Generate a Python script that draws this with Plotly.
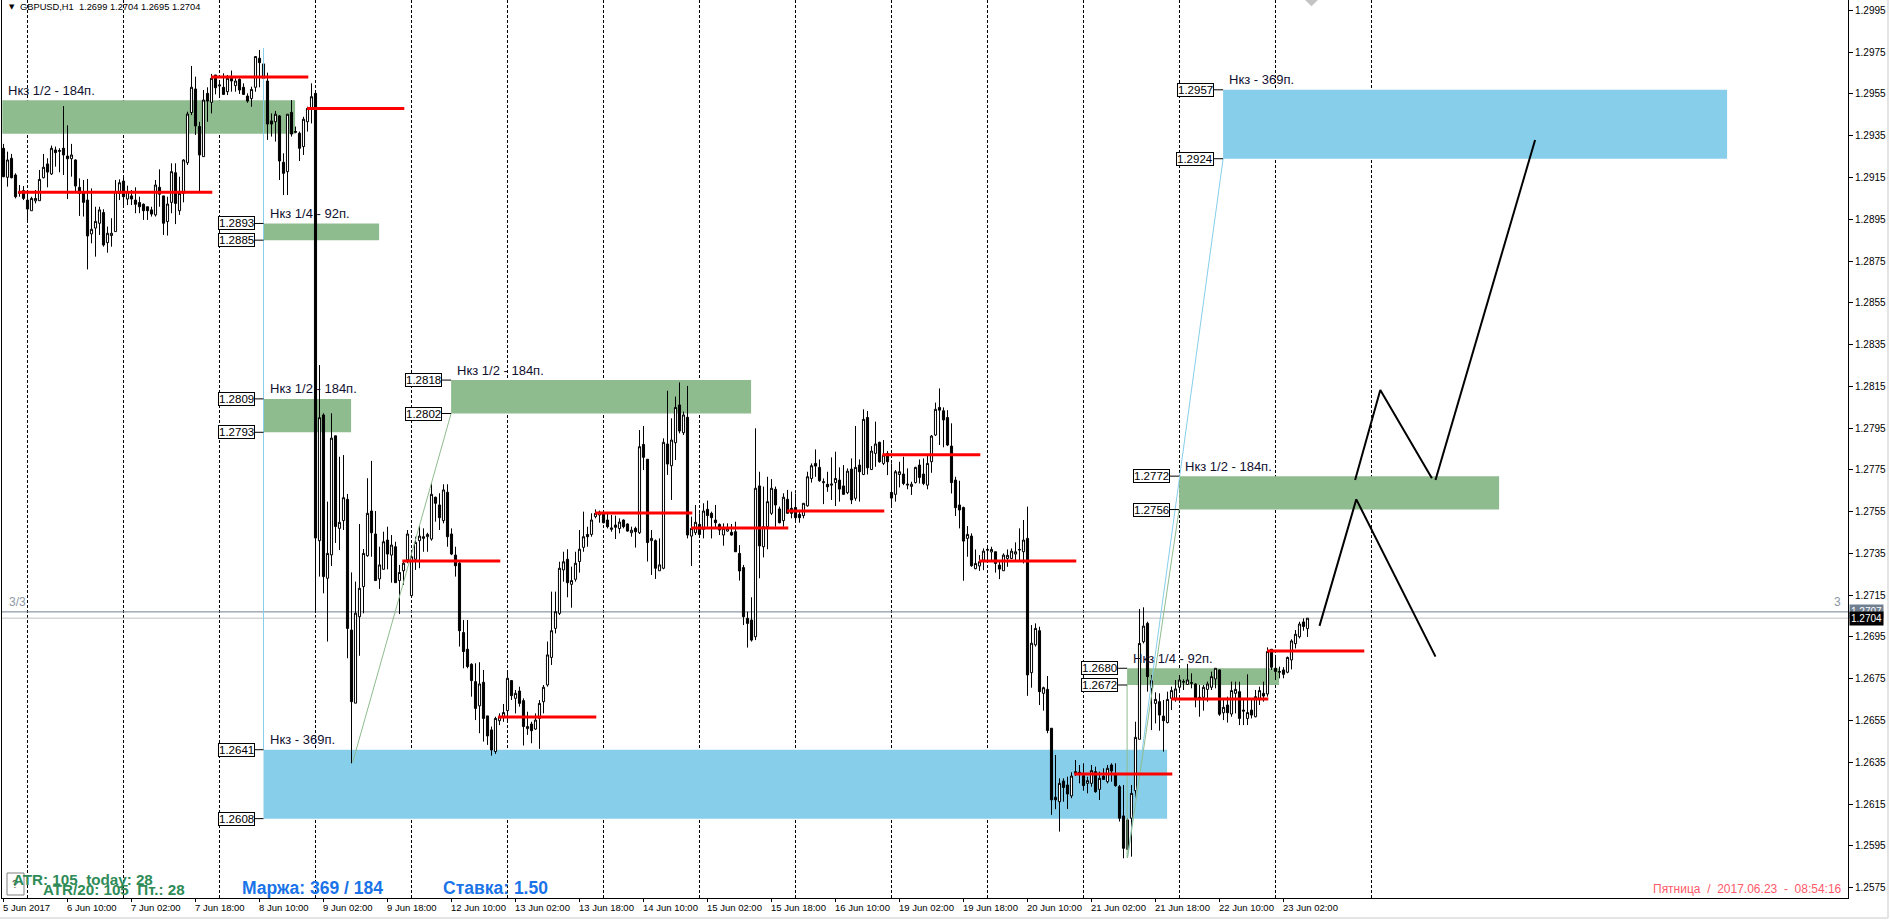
import plotly.graph_objects as go

# hourly bars, in points (price * 100000)
highs_pts = [
    129311,129274,129263,129170,129114,129109,129090,129058,129090,129186,
    129263,129242,129303,129298,129290,129492,129400,129311,129237,129146,
    129138,129143,129098,129010,129010,128998,128915,128955,129138,129141,
    129154,129111,129090,129103,129058,129026,129010,129010,129138,129189,
    129062,129058,129218,129218,129154,129237,129465,129684,129633,129417,
    129569,129582,129646,129641,129617,129649,129641,129662,129625,129625,
    129601,129553,129585,129732,129761,129697,129652,129457,129469,129449,
    129266,129453,129521,129394,129370,129441,129489,129601,129553,
    128252,128021,127598,128021,127913,127813,127821,127635,127259,127215,
    127491,127371,127710,127793,127553,127382,127454,127478,127438,127406,
    127295,127318,127462,127366,127430,127486,127470,127449,127686,127622,
    127638,127681,127681,127470,127382,127310,127031,127031,126824,126824,
    126829,126792,126572,126521,126568,126584,126629,126784,126744,126696,
    126712,126656,126592,126544,126584,126648,126720,126928,127167,127167,
    127310,127358,127370,127287,127358,127462,127550,127478,127542,127561,
    127555,127553,127542,127534,127531,127518,127513,127494,127478,127478,
    127941,127960,127801,127462,127417,127422,127901,128129,127997,128101,
    128169,128029,128152,127526,127582,127542,127590,127603,127550,127582,
    127494,127494,127494,127491,127502,127390,127295,127071,127140,127949,
    127741,127670,127717,127706,127670,127574,127638,127654,127646,
    127637,127558,127590,127741,127781,127848,127800,127709,127741,127810,
    127837,127762,127773,127757,127805,127960,127800,128040,128032,127864,
    127981,127885,127893,127840,127781,127749,127789,127813,127757,127693,
    127765,127800,127805,127821,127917,128072,128140,128049,128036,127973,
    127717,127698,127574,127481,127446,127369,127342,127374,127385,127382,
    127358,127310,127350,127369,127374,127403,127470,127510,127574,
    127007,127015,126999,126712,126763,126513,126385,126273,126273,126281,126302,
    126361,126337,126345,126281,126337,126329,126305,126321,126337,126345,126345,
    126241,126241,126082,126241,126544,127084,127092,127023,126768,126685,126680,126648,
    126688,126712,126744,126768,126747,126821,126776,126728,126720,126720,
    126736,126784,126800,126795,126656,126664,126736,126736,126736,126656,
    126771,126648,126696,126712,126736,126900,126891,126852,126808,126805,
    126856,126939,126983,127023,127039,127040,
]
body_tops_pts = [
    129290,129234,129242,129162,129082,129087,129042,129050,129050,129141,
    129199,129215,129290,129282,129279,129290,129253,129258,129234,129103,
    129078,129042,128902,128940,128995,128982,128883,128883,129082,129125,
    129133,129082,129062,129042,129030,129022,129010,128995,129114,129103,
    129062,129023,129178,129173,129074,129234,129454,129582,129574,129394,
    129521,129553,129625,129641,129593,129582,129625,129625,129612,129620,
    129582,129540,129572,129729,129721,129694,129612,129421,129453,129445,
    129223,129453,129462,129370,129362,129429,129481,129537,129553,
    128000,128013,127350,127902,127913,127499,127617,127609,126983,127064,
    127183,127350,127542,127553,127443,127295,127406,127414,127390,127382,
    127259,127303,127443,127334,127403,127433,127430,127441,127633,127619,
    127582,127654,127643,127443,127342,127303,126971,126891,126819,126736,
    126725,126733,126572,126505,126560,126568,126588,126752,126741,126680,
    126691,126645,126521,126533,126552,126632,126709,126864,126980,127071,
    127279,127310,127322,127220,127303,127370,127430,127441,127510,127542,
    127547,127545,127510,127472,127486,127500,127510,127491,127461,127470,
    127861,127872,127801,127422,127411,127295,127882,127874,127893,128049,
    128061,128013,128002,127470,127499,127489,127553,127561,127542,127510,
    127489,127470,127470,127451,127454,127350,127282,127039,127031,127662,
    127673,127478,127598,127662,127657,127563,127619,127609,127566,
    127570,127537,127590,127717,127770,127781,127762,127693,127681,127682,
    127709,127701,127673,127744,127754,127762,127773,127992,128001,127840,
    127874,127882,127821,127829,127642,127741,127741,127730,127681,127681,
    127762,127773,127730,127781,127912,128040,128049,128033,128001,127864,
    127701,127582,127570,127441,127433,127302,127310,127361,127369,127369,
    127358,127294,127342,127341,127361,127358,127369,127414,127422,
    126920,126991,126980,126707,126699,126513,126182,126249,126260,126241,126284,
    126305,126302,126286,126262,126310,126305,126273,126284,126321,126337,126289,
    126233,126093,126074,126201,126469,126919,127002,127015,126741,126651,126640,126571,
    126651,126693,126701,126744,126737,126744,126731,126725,126661,126709,
    126725,126760,126800,126792,126613,126624,126693,126699,126688,126600,
    126588,126600,126664,126693,126680,126880,126891,126800,126784,126792,
    126852,126931,126963,127012,127022,127040,
]
body_bottoms_pts = [
    129154,129151,129149,129058,129074,129050,128999,128991,129038,129039,
    129149,129176,129167,129269,129275,129258,129240,129240,129109,129074,
    129031,128870,128880,128908,128931,128827,128838,128872,128891,129074,
    129058,129047,129047,129022,129010,128991,128991,128975,128971,129070,
    128931,128939,129031,129026,128991,129074,129221,129461,129397,129258,
    129250,129516,129510,129580,129588,129548,129561,129612,129590,129569,
    129548,129516,129528,129582,129700,129625,129406,129406,129417,129229,
    129170,129178,129358,129366,129290,129298,129417,129481,127424,
    127411,127239,127231,127343,127479,127470,127507,126991,126640,126633,
    127047,127191,127339,127449,127220,127228,127274,127347,127342,127210,
    127220,127267,127319,127148,127322,127411,127422,127430,127419,127590,
    127521,127507,127430,127347,127291,126980,126880,126808,126741,126608,
    126620,126560,126476,126409,126401,126549,126568,126597,126669,126656,
    126632,126521,126511,126501,126509,126560,126640,126720,126852,126991,
    127063,127271,127210,127202,127226,127311,127379,127430,127441,127526,
    127534,127497,127478,127465,127475,127469,127478,127457,127449,127454,
    127449,127810,127402,127411,127279,127267,127279,127778,127770,127880,
    127936,127928,127438,127433,127449,127441,127465,127531,127521,127497,
    127462,127438,127457,127438,127358,127266,127047,127015,126935,126951,
    127386,127382,127478,127542,127582,127497,127507,127542,127542,
    127521,127521,127531,127578,127709,127768,127698,127689,127669,127677,
    127689,127658,127633,127641,127606,127614,127741,127728,127760,127752,
    127829,127789,127781,127789,127615,127633,127728,127685,127677,127671,
    127689,127714,127685,127677,127789,127917,128036,127989,127869,127689,
    127569,127558,127409,127422,127291,127277,127290,127318,127365,127357,
    127302,127275,127267,127326,127326,127347,127366,127358,126768,
    126779,126912,126688,126680,126502,126170,126170,126161,126229,126198,126189,
    126297,126297,126238,126249,126249,126209,126220,126268,126257,126308,126238,
    126082,125938,125933,126082,126214,126460,126927,126760,126704,126632,126576,126549,
    126540,126656,126656,126709,126733,126723,126728,126656,126656,126661,
    126699,126709,126749,126580,126587,126587,126581,126680,126560,126595,
    126560,126576,126568,126656,126667,126677,126805,126785,126781,126771,
    126781,126840,126918,126951,127000,126990,
]
lows_pts = [
    129151,129106,129146,129050,129058,129042,128934,128991,129026,129039,
    129146,129103,129162,129202,129175,129162,129047,129154,129082,128966,
    128963,128710,128835,128771,128875,128819,128790,128819,128891,129042,
    129018,129018,129018,128979,128979,128947,128947,128963,128963,129010,
    128875,128872,128979,128927,128971,129031,129210,129449,129354,129079,
    129250,129417,129457,129548,129545,129545,129545,129561,129561,129550,
    129545,129508,129489,129561,129582,129598,129330,129346,129322,129138,
    129066,129066,129346,129362,129229,129258,129370,129409,127065,
    127239,127159,126928,127290,127400,127366,127462,126848,126345,126633,
    126860,127063,127334,127334,127220,127180,127274,127274,127210,127210,
    127060,127199,127303,127148,127271,127279,127358,127358,127411,127502,
    127462,127494,127382,127342,127239,126904,126800,126800,126664,126552,
    126489,126449,126433,126382,126390,126528,126544,126552,126648,126584,
    126616,126430,126481,126441,126505,126414,126584,126712,126816,126967,
    127055,127215,127140,127090,127215,127258,127358,127382,127430,127518,
    127497,127494,127470,127454,127419,127446,127470,127454,127430,127378,
    127443,127749,127311,127247,127228,127267,127274,127726,127606,127797,
    127925,127917,127422,127290,127438,127438,127422,127478,127422,127470,
    127438,127387,127454,127435,127357,127220,127007,126899,126928,126935,
    127231,127331,127370,127534,127478,127494,127478,127542,127518,
    127497,127497,127518,127574,127689,127717,127693,127586,127645,127606,
    127577,127598,127630,127634,127586,127602,127598,127725,127728,127749,
    127765,127784,127773,127725,127582,127598,127666,127677,127657,127630,
    127685,127685,127677,127657,127736,127912,127869,127858,127864,127637,
    127529,127470,127219,127334,127286,127274,127266,127270,127310,127310,
    127258,127227,127266,127286,127323,127310,127310,127302,126668,
    126707,126904,126624,126597,126489,126098,126125,126018,126161,126126,126178,
    126284,126249,126214,126201,126233,126204,126169,126268,126249,126257,126233,
    126066,125890,125933,125898,126177,126460,126919,126688,126504,126536,126501,126401,
    126536,126600,126640,126688,126696,126720,126704,126613,126568,126597,
    126640,126696,126704,126572,126552,126540,126568,126584,126528,126528,
    126528,126560,126565,126624,126640,126664,126792,126744,126752,126752,
    126776,126795,126895,126943,126980,126950,
]
# W = white (up) candle, B = black (down) candle
candle_colors = (
    "BWBBWBBWWW" "WBWBWBBWBB" "BBWWWBWWWW" "BWBBBBBBWB" "BWWBWWWWBB"
    "WBWBWBWBWB" "BBWWBWBBWB" "BWBWBWWWBW" "BWWBWWBBWW" "WWBBWWBWBW"
    "WWWWWWWWBB" "WBBBBBBBBW" "BBBWWWWBWB" "BWBWWWWWWW" "WBWWWWBWWW"
    "BBWBWBBWBW" "BBWBWWBWWB" "WBWWBWBBBB" "WWBBBBBBWB" "WWWBBWBBBB"
    "WWWBBWBWWB" "BWBWBWBWWB" "WBBWWBWWWB" "BWWWBBBBBB" "BWBWWWWWBB"
    "WWWWWWBWWB" "WBBBWBBWBB" "BWWBWBWBBB" "BBWWWWBWWB" "BWWWWWWWBB"
    "WWWWBWBWWB" "BWBWWBWBBW" "BWWWWBW"
)

tick_bars = list(range(0, 321, 16))
tick_labels = [
    "5 Jun 2017", "6 Jun 10:00", "7 Jun 02:00", "7 Jun 18:00", "8 Jun 10:00", "9 Jun 02:00",
    "9 Jun 18:00", "12 Jun 10:00", "13 Jun 02:00", "13 Jun 18:00", "14 Jun 10:00",
    "15 Jun 02:00", "15 Jun 18:00", "16 Jun 10:00", "19 Jun 02:00", "19 Jun 18:00",
    "20 Jun 10:00", "21 Jun 02:00", "21 Jun 18:00", "22 Jun 10:00", "23 Jun 02:00",
]
price_ticks = [1.2575 + 0.002 * n for n in range(22)]
day_separators = list(range(6, 343, 24))

# zones: left bar, right bar, top, bottom, caption, colour
zone_left = [-0.3, 65, 65, 65, 111.9, 280.9, 293.9, 304.9]
zone_right = [72.9, 93.9, 86.9, 290.9, 186.9, 318.9, 373.9, 430.9]
zone_top = [1.2952, 1.2893, 1.2809, 1.2641, 1.2818, 1.2680, 1.2772, 1.2957]
zone_bottom = [1.2936, 1.2885, 1.2793, 1.2608, 1.2802, 1.2672, 1.2756, 1.2924]
zone_caption = ["Нкз 1/2 - 184п.", "Нкз 1/4 - 92п.", "Нкз 1/2 - 184п.", "Нкз - 369п.",
                "Нкз 1/2 - 184п.", "Нкз 1/4 - 92п.", "Нкз 1/2 - 184п.", "Нкз - 369п."]
zone_color = ["#8fbc8f", "#8fbc8f", "#8fbc8f", "#87ceeb", "#8fbc8f", "#8fbc8f", "#8fbc8f", "#87ceeb"]

# red levels
red_start = [3.7, 51.9, 75.9, 99.7, 123.7, 147.9, 171.9, 195.9, 219.7, 243.9, 267.7, 291.9, 315.9]
red_end = [52.2, 76.2, 100.2, 124.2, 148.2, 172.2, 196.2, 220.2, 244.2, 268.2, 292.2, 316.2, 340.2]
red_price = [1.29079, 1.29631, 1.29481, 1.27314, 1.26567, 1.27544, 1.27472, 1.27553, 1.27822,
             1.27314, 1.26294, 1.26653, 1.26883]

# drawn forecast paths
path1_bars = [329, 338.2, 358]
path1_prices = [1.27003, 1.27609, 1.26856]
path2_bars = [337.9, 344.2, 357.1]
path2_prices = [1.27702, 1.28133, 1.27710]
path3_bars = [358, 382.9]
path3_prices = [1.27702, 1.29330]

# thin lines from swing points
blue_bars = [[65, 65], [281, 304.9]]
blue_prices = [[1.2977, 1.2641], [1.25892, 1.2924]]
green_bars = [[87.3, 111.9], [281, 293.9], [280.9, 280.9]]
green_prices = [[1.2635, 1.2802], [1.25892, 1.2756], [1.2672, 1.25892]]

ask_price = 1.2707
bid_price = 1.2704

if not (len(highs_pts) == len(lows_pts) == len(body_tops_pts) == len(body_bottoms_pts) == len(candle_colors)):
    raise SystemExit("bar lists differ: %d %d %d %d %d" % (len(highs_pts), len(lows_pts), len(body_tops_pts),
                                                          len(body_bottoms_pts), len(candle_colors)))

bars = list(range(len(highs_pts)))
highs = [v / 100000 for v in highs_pts]
lows = [v / 100000 for v in lows_pts]
opens = [(b if c == "W" else t) / 100000 for t, b, c in zip(body_tops_pts, body_bottoms_pts, candle_colors)]
closes = [(t if c == "W" else b) / 100000 for t, b, c in zip(body_tops_pts, body_bottoms_pts, candle_colors)]

PLOT_W = 1846
PLOT_H = 898
FONT = "Liberation Sans"


def page_x(px):
    return (px - 2) / PLOT_W


def page_y(py):
    return 1 - py / PLOT_H


fig = go.Figure()

for xs, ys in zip(blue_bars, blue_prices):
    fig.add_trace(go.Scatter(x=xs, y=ys, mode="lines", line=dict(color="#87ceeb", width=1), hoverinfo="skip"))
for xs, ys in zip(green_bars, green_prices):
    fig.add_trace(go.Scatter(x=xs, y=ys, mode="lines", line=dict(color="#8fbc8f", width=1), hoverinfo="skip"))

fig.add_trace(go.Candlestick(
    x=bars, open=opens, high=highs, low=lows, close=closes, whiskerwidth=0,
    increasing=dict(fillcolor="white", line=dict(color="black", width=1)),
    decreasing=dict(fillcolor="black", line=dict(color="black", width=1)),
))

for x0, x1, p in zip(red_start, red_end, red_price):
    fig.add_trace(go.Scatter(x=[x0, x1], y=[p, p], mode="lines", line=dict(color="#ff0000", width=3), hoverinfo="skip"))
for xs, ys in [(path1_bars, path1_prices), (path2_bars, path2_prices), (path3_bars, path3_prices)]:
    fig.add_trace(go.Scatter(x=xs, y=ys, mode="lines", line=dict(color="black", width=2), hoverinfo="skip"))
# grey marker cut off by the top edge
fig.add_trace(go.Scatter(x=[327], y=[1.3001], mode="markers", hoverinfo="skip",
                         marker=dict(symbol="diamond", size=13, color="#c4c4c4")))

shapes = []
for x0, x1, top, bottom, color in zip(zone_left, zone_right, zone_top, zone_bottom, zone_color):
    shapes.append(dict(type="rect", layer="below", xref="x", yref="y", x0=x0, x1=x1, y0=bottom, y1=top,
                       fillcolor=color, line=dict(width=0)))
for b in day_separators:
    shapes.append(dict(type="line", layer="below", xref="x", yref="paper", x0=b, x1=b, y0=0, y1=1,
                       line=dict(color="black", width=1, dash="3px,2px")))
for p, color in [(ask_price, "#708090"), (bid_price, "#c0c0c0")]:
    shapes.append(dict(type="line", layer="below", xref="paper", yref="y", x0=0, x1=1, y0=p, y1=p,
                       line=dict(color=color, width=1)))
# connectors from the price boxes to the zones
for x0, top, bottom in zip(zone_left[1:], zone_top[1:], zone_bottom[1:]):
    for p in (top, bottom):
        shapes.append(dict(type="line", xref="x", yref="y", x0=x0 - 2.4, x1=x0, y0=p, y1=p,
                           line=dict(color="black", width=1)))
# window frame on the right and bottom
shapes.append(dict(type="line", xref="paper", yref="paper", x0=page_x(1888), x1=page_x(1888), y0=page_y(0),
                   y1=page_y(918), line=dict(color="#e4e4e4", width=2)))
shapes.append(dict(type="line", xref="paper", yref="paper", x0=page_x(0), x1=page_x(1888), y0=page_y(918),
                   y1=page_y(918), line=dict(color="#e4e4e4", width=2)))

notes = []
for x0, top, caption in zip(zone_left, zone_top, zone_caption):
    notes.append(dict(x=x0, y=top, xref="x", yref="y", text=caption, showarrow=False, xanchor="left",
                      yanchor="middle", xshift=4, yshift=10, font=dict(family=FONT, size=13, color="#101030")))
for x0, top, bottom in zip(zone_left[1:], zone_top[1:], zone_bottom[1:]):
    for p in (top, bottom):
        notes.append(dict(x=x0, y=p, xref="x", yref="y", text="%.4f" % p, showarrow=False, xanchor="right",
                          yanchor="middle", xshift=-9, bgcolor="white", bordercolor="black", borderwidth=1,
                          borderpad=0, font=dict(family=FONT, size=11.5, color="black")))
for b, label in zip(tick_bars, tick_labels):
    notes.append(dict(x=b, y=0, xref="x", yref="paper", text=label, showarrow=False, xanchor="left",
                      yanchor="top", xshift=-3, yshift=-2, font=dict(family=FONT, size=9.5, color="black")))

notes.append(dict(x=page_x(7), y=page_y(7), xref="paper", yref="paper", text="▼", showarrow=False, xanchor="left",
                  yanchor="middle", font=dict(family="DejaVu Sans", size=7, color="black")))
notes.append(dict(x=page_x(18), y=page_y(7), xref="paper", yref="paper", showarrow=False, xanchor="left",
                  yanchor="middle", text="GBPUSD,H1  1.2699 1.2704 1.2695 1.2704",
                  font=dict(family=FONT, size=9.3, color="black")))
notes.append(dict(x=page_x(7), y=page_y(602), xref="paper", yref="paper", text="3/3", showarrow=False, xanchor="left",
                  yanchor="middle", font=dict(family=FONT, size=12, color="#8c99a6")))
notes.append(dict(x=page_x(1843), y=page_y(602), xref="paper", yref="paper", text="3", showarrow=False,
                  xanchor="right", yanchor="middle", font=dict(family=FONT, size=12, color="#8c99a6")))
notes.append(dict(x=page_x(15), y=page_y(884), xref="paper", yref="paper", text="?", showarrow=False, xanchor="center",
                  yanchor="middle", xshift=0, font=dict(family=FONT, size=11, color="#505050")))
notes.append(dict(x=page_x(11), y=page_y(879), xref="paper", yref="paper", text="ATR: 105  today: 28", showarrow=False,
                  xanchor="left", yanchor="middle", font=dict(family=FONT, size=15.2, color="#2e8b57", weight="bold")))
notes.append(dict(x=page_x(41), y=page_y(889), xref="paper", yref="paper", text="ATR/20: 105  Пт.: 28", showarrow=False,
                  xanchor="left", yanchor="middle", font=dict(family=FONT, size=15.2, color="#2e8b57", weight="bold")))
notes.append(dict(x=page_x(240), y=page_y(888), xref="paper", yref="paper", text="Маржа: 369 / 184", showarrow=False,
                  xanchor="left", yanchor="middle", font=dict(family=FONT, size=17.5, color="#1a73e8", weight="bold")))
notes.append(dict(x=page_x(441), y=page_y(888), xref="paper", yref="paper", text="Ставка: 1.50", showarrow=False,
                  xanchor="left", yanchor="middle", font=dict(family=FONT, size=17.5, color="#1a73e8", weight="bold")))
notes.append(dict(x=page_x(1844), y=page_y(889), xref="paper", yref="paper", showarrow=False, xanchor="right",
                  yanchor="middle", text="Пятница  /  2017.06.23  -  08:54:16",
                  font=dict(family=FONT, size=12, color="#ff5a6a")))
notes.append(dict(x=1, y=ask_price, xref="paper", yref="y", text="1.2707", showarrow=False, xanchor="left", xshift=1,
                  yanchor="middle", bgcolor="#708090", borderpad=1, font=dict(family=FONT, size=10, color="white")))
notes.append(dict(x=1, y=bid_price, xref="paper", yref="y", text="1.2704", showarrow=False, xanchor="left", xshift=1,
                  yanchor="middle", bgcolor="black", borderpad=1, font=dict(family=FONT, size=10, color="white")))

shapes.append(dict(type="rect", xref="paper", yref="paper", x0=page_x(7), x1=page_x(24), y0=page_y(895), y1=page_y(873),
                   line=dict(color="#808080", width=1)))

fig.update_layout(
    width=1890, height=920, autosize=False, showlegend=False,
    margin=dict(l=2, r=42, t=0, b=22, pad=0),
    paper_bgcolor="white", plot_bgcolor="white", hovermode=False, boxgap=0.25,
    shapes=shapes, annotations=notes,
    xaxis=dict(range=[-0.375, 461.125], rangeslider=dict(visible=False), showgrid=False, zeroline=False,
               showline=True, linecolor="black", linewidth=1, ticks="outside", ticklen=3, tickcolor="black",
               tickvals=tick_bars, showticklabels=False, fixedrange=True),
    yaxis=dict(range=[1.2570, 1.3000], side="right", showgrid=False, zeroline=False, showline=True, mirror=True,
               linecolor="black", linewidth=1, ticks="outside", ticklen=4, tickcolor="black", tickvals=price_ticks,
               ticktext=["%.4f" % v for v in price_ticks], tickfont=dict(family=FONT, size=10, color="black"),
               fixedrange=True),
)

fig.write_html("out.html", config=dict(displayModeBar=False),
               post_script="document.body.style.margin='0';document.body.style.overflow='hidden';")
